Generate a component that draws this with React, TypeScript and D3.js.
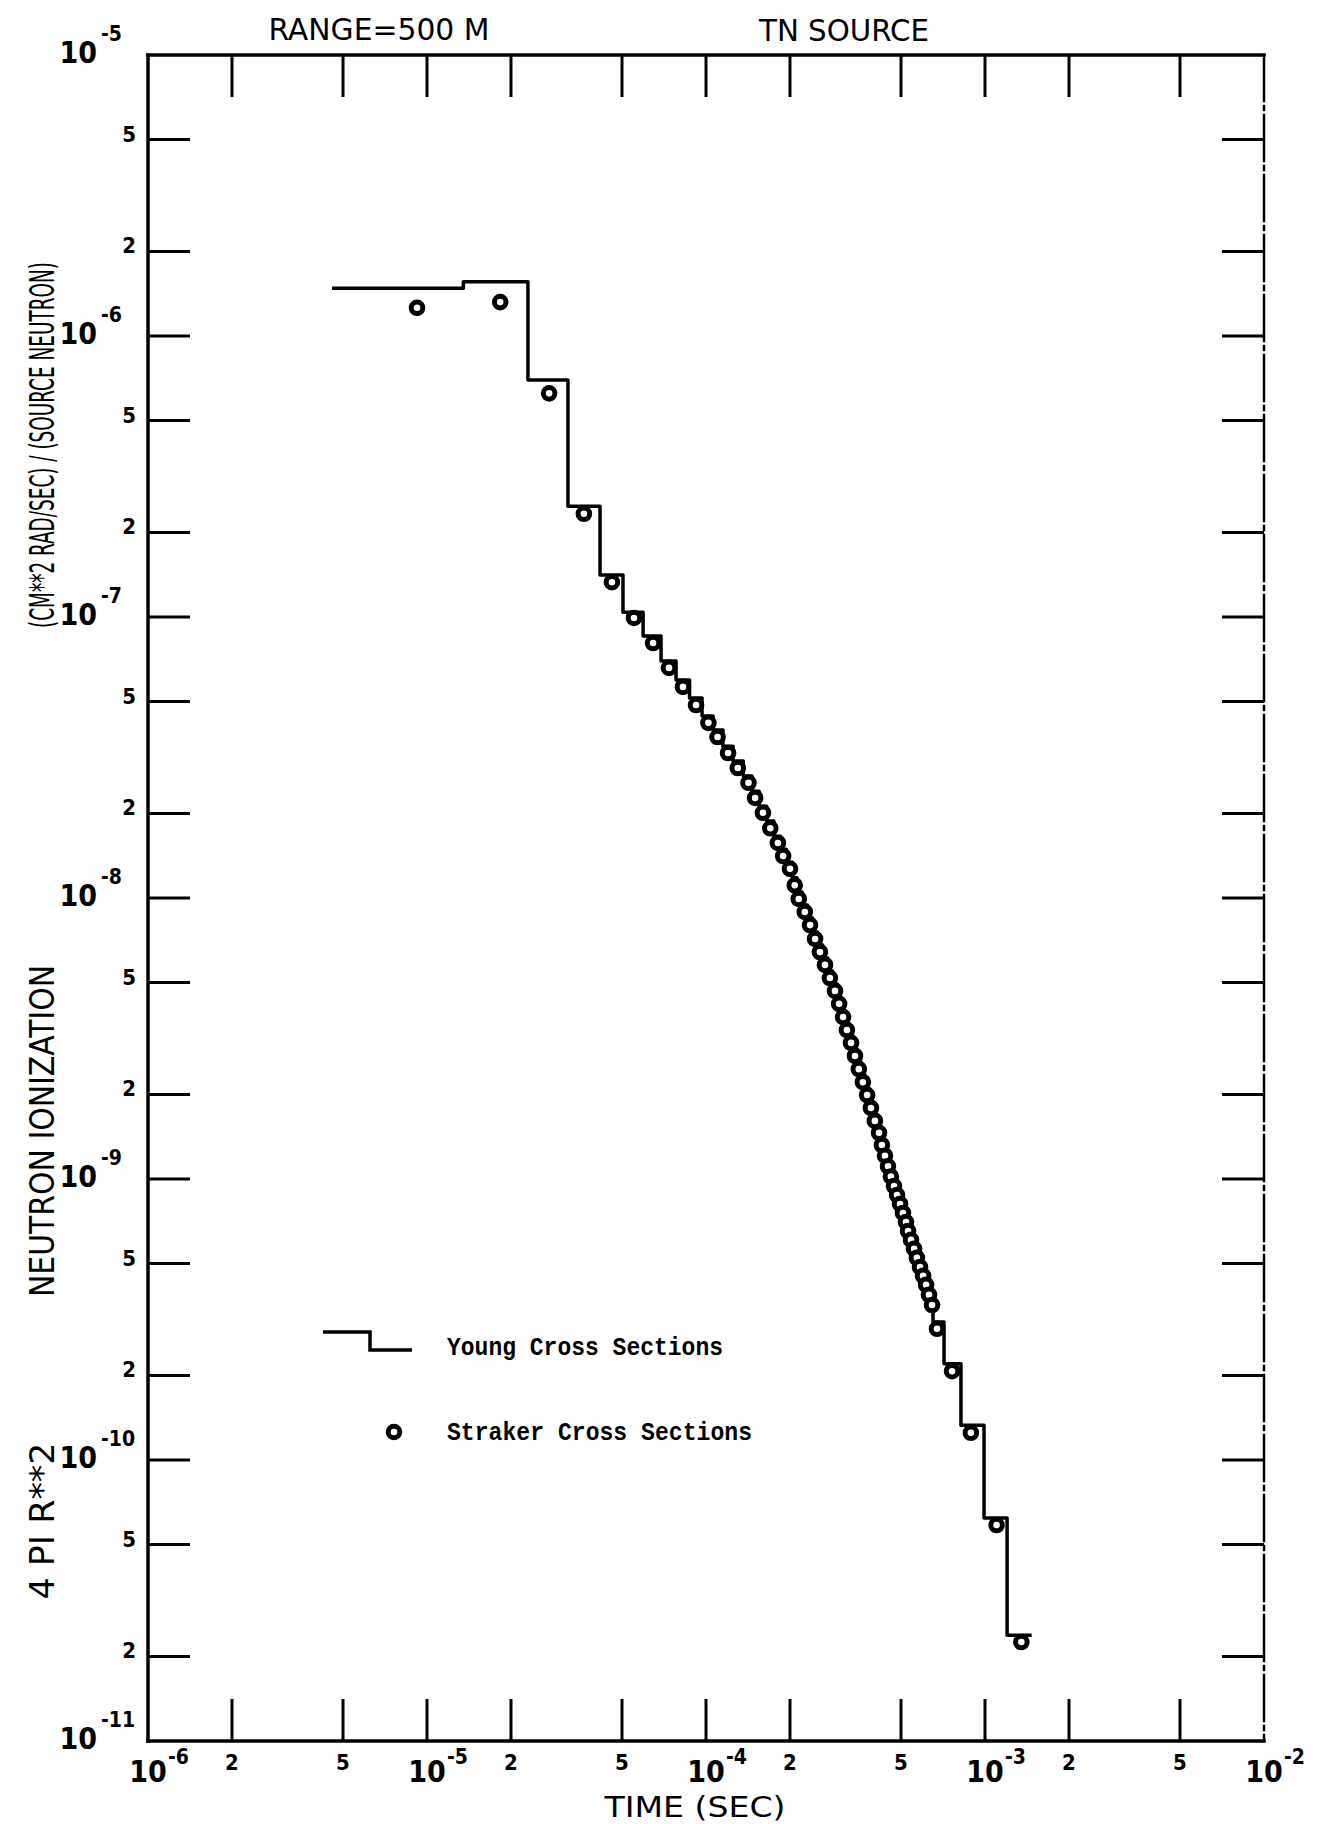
import React from 'react';
import * as d3 from 'd3';

// ---- data ----
// Young cross sections: staircase (bin edges in seconds, level in each bin)
const youngEdges = [4.57e-6, 1.35e-5, 2.30e-5, 3.20e-5, 4.17e-5, 5.04e-5, 5.95e-5, 6.90e-5, 7.81e-5, 8.73e-5,
  9.68e-5, 1.06e-4, 1.15e-4, 1.25e-4, 1.36e-4, 1.46e-4, 1.55e-4, 1.65e-4, 1.75e-4, 1.85e-4,
  1.94e-4, 2.04e-4, 2.12e-4, 2.21e-4, 2.31e-4, 2.41e-4, 2.51e-4, 2.62e-4, 2.73e-4, 2.84e-4,
  2.95e-4, 3.05e-4, 3.15e-4, 3.25e-4, 3.36e-4, 3.48e-4, 3.59e-4, 3.71e-4, 3.84e-4, 3.97e-4,
  4.10e-4, 4.22e-4, 4.33e-4, 4.44e-4, 4.55e-4, 4.66e-4, 4.78e-4, 4.90e-4, 5.02e-4, 5.15e-4,
  5.25e-4, 5.36e-4, 5.50e-4, 5.64e-4, 5.78e-4, 5.92e-4, 6.07e-4, 6.22e-4, 6.38e-4, 6.51e-4,
  7.13e-4, 8.20e-4, 9.92e-4, 1.20e-3, 1.47e-3];
const youngLevels = [1.48e-6, 1.56e-6, 6.97e-7, 2.48e-7, 1.41e-7, 1.04e-7, 8.56e-8, 6.97e-8, 5.97e-8, 5.15e-8,
  4.44e-8, 3.96e-8, 3.47e-8, 3.07e-8, 2.72e-8, 2.40e-8, 2.12e-8, 1.88e-8, 1.66e-8, 1.49e-8,
  1.34e-8, 1.18e-8, 1.05e-8, 9.44e-9, 8.49e-9, 7.57e-9, 6.80e-9, 6.12e-9, 5.50e-9, 4.94e-9,
  4.44e-9, 3.99e-9, 3.59e-9, 3.23e-9, 2.90e-9, 2.61e-9, 2.35e-9, 2.11e-9, 1.89e-9, 1.70e-9,
  1.54e-9, 1.40e-9, 1.28e-9, 1.18e-9, 1.09e-9, 1.00e-9, 9.29e-10, 8.63e-10, 8.01e-10, 7.45e-10,
  6.92e-10, 6.42e-10, 5.97e-10, 5.54e-10, 5.15e-10, 4.78e-10, 4.44e-10, 4.09e-10, 3.77e-10, 3.10e-10,
  2.20e-10, 1.33e-10, 6.22e-11, 2.38e-11];

// Straker cross sections: points
const strakerTimes = [9.21e-6, 1.83e-5, 2.74e-5, 3.65e-5, 4.60e-5, 5.52e-5, 6.46e-5, 7.37e-5, 8.27e-5, 9.21e-5,
  1.02e-4, 1.10e-4, 1.20e-4, 1.30e-4, 1.42e-4, 1.50e-4, 1.60e-4, 1.70e-4, 1.81e-4, 1.89e-4,
  2.00e-4, 2.08e-4, 2.15e-4, 2.26e-4, 2.36e-4, 2.46e-4, 2.56e-4, 2.67e-4, 2.78e-4, 2.90e-4,
  3.00e-4, 3.10e-4, 3.20e-4, 3.31e-4, 3.42e-4, 3.53e-4, 3.65e-4, 3.78e-4, 3.90e-4, 4.03e-4,
  4.17e-4, 4.27e-4, 4.38e-4, 4.49e-4, 4.60e-4, 4.72e-4, 4.84e-4, 4.96e-4, 5.08e-4, 5.21e-4,
  5.30e-4, 5.43e-4, 5.57e-4, 5.70e-4, 5.85e-4, 6.00e-4, 6.15e-4, 6.30e-4, 6.46e-4, 6.73e-4,
  7.62e-4, 8.90e-4, 1.10e-3, 1.35e-3];
const strakerValues = [1.26e-6, 1.32e-6, 6.25e-7, 2.33e-7, 1.33e-7, 9.92e-8, 8.08e-8, 6.59e-8, 5.64e-8, 4.86e-8,
  4.20e-8, 3.74e-8, 3.28e-8, 2.90e-8, 2.57e-8, 2.27e-8, 2.01e-8, 1.77e-8, 1.57e-8, 1.41e-8,
  1.27e-8, 1.11e-8, 9.92e-9, 8.92e-9, 8.01e-9, 7.15e-9, 6.42e-9, 5.78e-9, 5.19e-9, 4.67e-9,
  4.20e-9, 3.77e-9, 3.39e-9, 3.05e-9, 2.74e-9, 2.46e-9, 2.21e-9, 1.99e-9, 1.79e-9, 1.61e-9,
  1.46e-9, 1.32e-9, 1.21e-9, 1.11e-9, 1.02e-9, 9.44e-10, 8.77e-10, 8.15e-10, 7.57e-10, 7.03e-10,
  6.53e-10, 6.07e-10, 5.64e-10, 5.24e-10, 4.86e-10, 4.52e-10, 4.20e-10, 3.87e-10, 3.56e-10, 2.93e-10,
  2.07e-10, 1.25e-10, 5.87e-11, 2.25e-11];

const xDecadeExps = [-6, -5, -4, -3, -2];
const yDecadeExps = [-5, -6, -7, -8, -9, -10, -11];
const minorMultipliers = [2, 5];

const titleLeft = 'RANGE=500 M';
const titleRight = 'TN SOURCE';
const xTitle = 'TIME (SEC)';
const yTitleParts = ['4 PI R**2', 'NEUTRON IONIZATION', '(CM**2 RAD/SEC) / (SOURCE NEUTRON)'];
const legendLabels = ['Young Cross Sections', 'Straker Cross Sections'];

const W = 1320;
const H = 1824;
const PL = 148, PR = 1264, PT = 55, PB = 1741;
const TICK = 42;
const FONT = "'DejaVu Sans Condensed', 'DejaVu Sans', sans-serif";
const MONO = "'Liberation Mono', 'DejaVu Sans Mono', monospace";

export default function App() {
  const x = d3.scaleLog().domain([1e-6, 1e-2]).range([PL, PR]);
  const y = d3.scaleLog().domain([1e-11, 1e-5]).range([PB, PT]);

  const stepPts: [number, number][] = youngLevels.map((v, i) => [youngEdges[i], v]);
  stepPts.push([youngEdges[youngEdges.length - 1], youngLevels[youngLevels.length - 1]]);
  const stepLine = d3.line<[number, number]>()
    .x(d => x(d[0]))
    .y(d => y(d[1]))
    .curve(d3.curveStepAfter);

  // tick values
  const xTicks: { v: number; label: string; major: boolean; exp?: number }[] = [];
  xDecadeExps.forEach((e, i) => {
    xTicks.push({ v: Math.pow(10, e), label: '10', major: true, exp: e });
    if (i < xDecadeExps.length - 1) {
      minorMultipliers.forEach(m => xTicks.push({ v: m * Math.pow(10, e), label: String(m), major: false }));
    }
  });
  const yTicks: { v: number; label: string; major: boolean; exp?: number }[] = [];
  yDecadeExps.forEach((e, i) => {
    yTicks.push({ v: Math.pow(10, e), label: '10', major: true, exp: e });
    if (i > 0) {
      minorMultipliers.forEach(m => yTicks.push({ v: m * Math.pow(10, e), label: String(m), major: false }));
    }
  });
  const xInner = xTicks.filter(t => t.v > 1.0001e-6 && t.v < 0.9999e-2);
  const yInner = yTicks.filter(t => t.v > 1.0001e-11 && t.v < 0.9999e-5);

  const yTitleCenters = [1521, 1131, 445];
  const yTitleLengths = [157, 332, 366];

  return (
    <svg width={W} height={H} viewBox={`0 0 ${W} ${H}`}
      style={{ position: 'absolute', left: 0, top: 0, background: '#fff' }}>
      <rect x={0} y={0} width={W} height={H} fill="#fff" />

      {/* titles */}
      <text x={379} y={40} textAnchor="middle" fontFamily={FONT} fontSize={31}
        textLength={221} lengthAdjust="spacingAndGlyphs" fill="#000">{titleLeft}</text>
      <text x={844} y={41} textAnchor="middle" fontFamily={FONT} fontSize={31}
        textLength={170} lengthAdjust="spacingAndGlyphs" fill="#000">{titleRight}</text>

      {/* frame */}
      <g stroke="#000" fill="none" strokeLinecap="square">
        <line x1={PL} y1={PT} x2={PR} y2={PT} strokeWidth={3.5} />
        <line x1={PL} y1={PB} x2={PR} y2={PB} strokeWidth={3.5} />
        <line x1={PL} y1={PT} x2={PL} y2={PB} strokeWidth={3.5} />
        <line x1={PR} y1={PT} x2={PR} y2={PB} strokeWidth={2.5} strokeDasharray="46 5 4 5" />
      </g>

      {/* ticks */}
      <g stroke="#000" strokeWidth={3}>
        {xInner.map((t, i) => (
          <g key={'xt' + i}>
            <line x1={x(t.v)} x2={x(t.v)} y1={PB} y2={PB - TICK} />
            <line x1={x(t.v)} x2={x(t.v)} y1={PT} y2={PT + TICK} />
          </g>
        ))}
        {yInner.map((t, i) => (
          <g key={'yt' + i}>
            <line x1={PL} x2={PL + TICK} y1={y(t.v)} y2={y(t.v)} />
            <line x1={PR} x2={PR - TICK} y1={y(t.v)} y2={y(t.v)} />
          </g>
        ))}
      </g>

      {/* x tick labels */}
      <g fontFamily={FONT} fill="#000" fontWeight="bold">
        {xTicks.map((t, i) => t.major ? (
          <g key={'xl' + i}>
            <text x={x(t.v)} y={1782} textAnchor="middle" fontSize={30}>{t.label}</text>
            <text x={x(t.v) + 20} y={1764} textAnchor="start" fontSize={21}>{String(t.exp)}</text>
          </g>
        ) : (
          <text key={'xl' + i} x={x(t.v)} y={1770} textAnchor="middle" fontSize={22}>{t.label}</text>
        ))}
      </g>

      {/* y tick labels */}
      <g fontFamily={FONT} fill="#000" fontWeight="bold">
        {yTicks.map((t, i) => t.major ? (
          <g key={'yl' + i}>
            <text x={97} y={y(t.v) + 8} textAnchor="end" fontSize={30}>{t.label}</text>
            <text x={101} y={y(t.v) - 14} textAnchor="start" fontSize={21}>{String(t.exp)}</text>
          </g>
        ) : (
          <text key={'yl' + i} x={136} y={y(t.v) + 2} textAnchor="end" fontSize={22}>{t.label}</text>
        ))}
      </g>

      {/* axis titles */}
      <text x={695} y={1817} textAnchor="middle" fontFamily={FONT} fontSize={29}
        textLength={181} lengthAdjust="spacingAndGlyphs" fill="#000">{xTitle}</text>
      {yTitleParts.map((s, i) => (
        <text key={'ytt' + i} transform={`translate(54,${yTitleCenters[i]}) rotate(-90)`}
          textAnchor="middle" fontFamily={FONT} fontSize={33}
          textLength={yTitleLengths[i]} lengthAdjust="spacingAndGlyphs" fill="#000">{s}</text>
      ))}

      {/* Young staircase */}
      <path d={stepLine(stepPts) || ''} fill="none" stroke="#000" strokeWidth={3.5} strokeLinejoin="round" />

      {/* Straker points */}
      <g fill="#fff" stroke="#000" strokeWidth={5}>
        {strakerTimes.map((t, i) => (
          <circle key={'s' + i} cx={x(t)} cy={y(strakerValues[i])} r={5.8} />
        ))}
      </g>

      {/* legend */}
      <path d="M323,1332 H370 V1350 H412" fill="none" stroke="#000" strokeWidth={3.5} />
      <text x={447} y={1355} fontFamily={MONO} fontWeight="bold" fontSize={25}
        textLength={276} lengthAdjust="spacingAndGlyphs" fill="#000">{legendLabels[0]}</text>
      <circle cx={394} cy={1432} r={5.8} fill="#fff" stroke="#000" strokeWidth={5} />
      <text x={447} y={1440} fontFamily={MONO} fontWeight="bold" fontSize={25}
        textLength={305} lengthAdjust="spacingAndGlyphs" fill="#000">{legendLabels[1]}</text>
    </svg>
  );
}
